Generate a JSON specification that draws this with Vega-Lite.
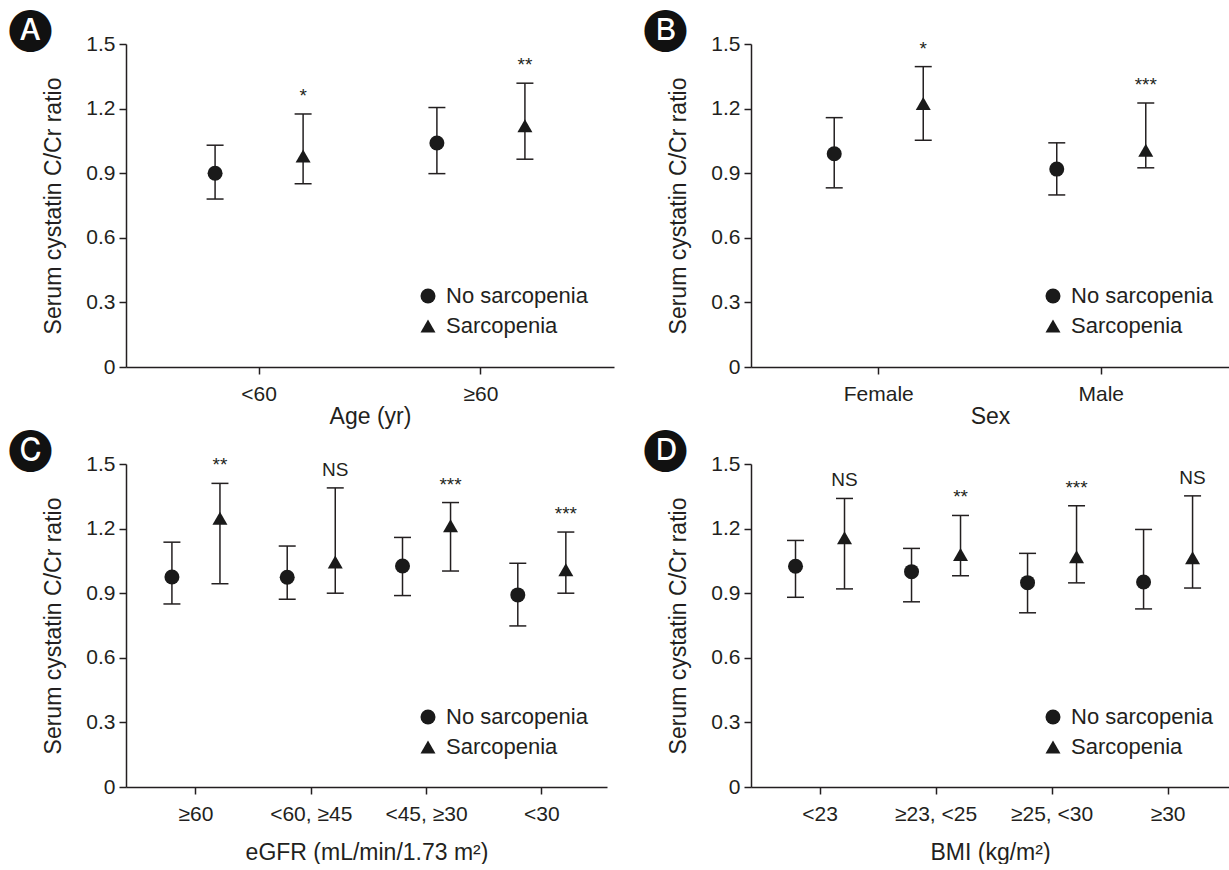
{
  "$schema": "https://vega.github.io/schema/vega-lite/v6.json",
  "background": "white",
  "padding": {"left": 9, "top": 6, "right": 0, "bottom": 0},
  "data": {"values": [
    {"panel": "A", "cat": "<60", "grp": "No sarcopenia", "mean": 0.900, "lower": 0.780, "upper": 1.030, "sig": ""},
    {"panel": "A", "cat": "<60", "grp": "Sarcopenia", "mean": 0.980, "lower": 0.851, "upper": 1.175, "sig": "*"},
    {"panel": "A", "cat": "≥60", "grp": "No sarcopenia", "mean": 1.040, "lower": 0.898, "upper": 1.205, "sig": ""},
    {"panel": "A", "cat": "≥60", "grp": "Sarcopenia", "mean": 1.120, "lower": 0.965, "upper": 1.318, "sig": "**"},
    {"panel": "B", "cat": "Female", "grp": "No sarcopenia", "mean": 0.990, "lower": 0.832, "upper": 1.158, "sig": ""},
    {"panel": "B", "cat": "Female", "grp": "Sarcopenia", "mean": 1.224, "lower": 1.053, "upper": 1.395, "sig": "*"},
    {"panel": "B", "cat": "Male", "grp": "No sarcopenia", "mean": 0.919, "lower": 0.799, "upper": 1.041, "sig": ""},
    {"panel": "B", "cat": "Male", "grp": "Sarcopenia", "mean": 1.007, "lower": 0.925, "upper": 1.226, "sig": "***"},
    {"panel": "C", "cat": "≥60", "grp": "No sarcopenia", "mean": 0.975, "lower": 0.850, "upper": 1.137, "sig": ""},
    {"panel": "C", "cat": "≥60", "grp": "Sarcopenia", "mean": 1.248, "lower": 0.944, "upper": 1.410, "sig": "**"},
    {"panel": "C", "cat": "<60, ≥45", "grp": "No sarcopenia", "mean": 0.974, "lower": 0.872, "upper": 1.119, "sig": ""},
    {"panel": "C", "cat": "<60, ≥45", "grp": "Sarcopenia", "mean": 1.045, "lower": 0.900, "upper": 1.389, "sig": "NS"},
    {"panel": "C", "cat": "<45, ≥30", "grp": "No sarcopenia", "mean": 1.026, "lower": 0.889, "upper": 1.159, "sig": ""},
    {"panel": "C", "cat": "<45, ≥30", "grp": "Sarcopenia", "mean": 1.213, "lower": 1.003, "upper": 1.321, "sig": "***"},
    {"panel": "C", "cat": "<30", "grp": "No sarcopenia", "mean": 0.892, "lower": 0.748, "upper": 1.039, "sig": ""},
    {"panel": "C", "cat": "<30", "grp": "Sarcopenia", "mean": 1.009, "lower": 0.900, "upper": 1.184, "sig": "***"},
    {"panel": "D", "cat": "<23", "grp": "No sarcopenia", "mean": 1.025, "lower": 0.881, "upper": 1.145, "sig": ""},
    {"panel": "D", "cat": "<23", "grp": "Sarcopenia", "mean": 1.157, "lower": 0.920, "upper": 1.340, "sig": "NS"},
    {"panel": "D", "cat": "≥23, <25", "grp": "No sarcopenia", "mean": 1.000, "lower": 0.860, "upper": 1.108, "sig": ""},
    {"panel": "D", "cat": "≥23, <25", "grp": "Sarcopenia", "mean": 1.080, "lower": 0.981, "upper": 1.261, "sig": "**"},
    {"panel": "D", "cat": "≥25, <30", "grp": "No sarcopenia", "mean": 0.949, "lower": 0.809, "upper": 1.085, "sig": ""},
    {"panel": "D", "cat": "≥25, <30", "grp": "Sarcopenia", "mean": 1.069, "lower": 0.948, "upper": 1.306, "sig": "***"},
    {"panel": "D", "cat": "≥30", "grp": "No sarcopenia", "mean": 0.952, "lower": 0.827, "upper": 1.196, "sig": ""},
    {"panel": "D", "cat": "≥30", "grp": "Sarcopenia", "mean": 1.065, "lower": 0.924, "upper": 1.352, "sig": "NS"}
  ]},
  "columns": 2,
  "spacing": {"row": 97, "column": 137},
  "bounds": "flush",
  "resolve": {"scale": {"shape": "independent", "x": "independent", "xOffset": "independent", "y": "independent"}, "legend": {"shape": "independent"}},
  "concat": [
    {
      "width": 488, "height": 323,
      "title": {"text": "🅐", "anchor": "start", "frame": "group", "dx": -117, "dy": 16, "offset": 0, "fontSize": 42, "font": "DejaVu Sans", "color": "#111111", "fontWeight": "normal"},
      "transform": [{"filter": "datum.panel === 'A'"}],
      "encoding": {
        "x": {"field": "cat", "type": "nominal", "sort": ["<60", "≥60"], "scale": {"paddingInner": 0, "paddingOuter": 0.1}, "axis": {"title": "Age (yr)", "titlePadding": 1}},
        "xOffset": {"field": "grp", "type": "nominal", "sort": ["No sarcopenia", "Sarcopenia"], "scale": {"paddingInner": 0, "paddingOuter": 0.26}}
      },
      "layer": [
        {"mark": {"type": "rule", "color": "#231f20", "strokeWidth": 1.5}, "encoding": {"y": {"field": "lower", "type": "quantitative", "title": "Serum cystatin C/Cr ratio", "scale": {"domain": [0, 1.5], "nice": false}, "axis": {"values": [0, 0.3, 0.6, 0.9, 1.2, 1.5], "format": ".1~f", "titlePadding": 20}}, "y2": {"field": "upper"}}},
        {"mark": {"type": "tick", "color": "#231f20", "thickness": 1.5, "size": 17, "opacity": 1}, "encoding": {"y": {"field": "upper", "type": "quantitative", "title": "Serum cystatin C/Cr ratio", "scale": {"domain": [0, 1.5], "nice": false}}}},
        {"mark": {"type": "tick", "color": "#231f20", "thickness": 1.5, "size": 17, "opacity": 1}, "encoding": {"y": {"field": "lower", "type": "quantitative", "title": "Serum cystatin C/Cr ratio", "scale": {"domain": [0, 1.5], "nice": false}}}},
        {"mark": {"type": "point", "filled": true, "color": "#1a1a1a", "opacity": 1, "size": 225}, "encoding": {"y": {"field": "mean", "type": "quantitative", "title": "Serum cystatin C/Cr ratio", "scale": {"domain": [0, 1.5], "nice": false}}, "shape": {"field": "grp", "type": "nominal", "scale": {"domain": ["No sarcopenia", "Sarcopenia"], "range": ["circle", "triangle-up"]}, "legend": {"title": null, "orient": "none", "legendX": 291, "legendY": 241}}}},
        {"mark": {"type": "text", "fontSize": 19, "dy": -12, "baseline": "alphabetic", "color": "#231f20"}, "encoding": {"y": {"field": "upper", "type": "quantitative", "title": "Serum cystatin C/Cr ratio", "scale": {"domain": [0, 1.5], "nice": false}}, "text": {"field": "sig"}}}
      ]
    },
    {
      "width": 478, "height": 323,
      "title": {"text": "🅑", "anchor": "start", "frame": "group", "dx": -107, "dy": 16, "offset": 0, "fontSize": 42, "font": "DejaVu Sans", "color": "#111111", "fontWeight": "normal"},
      "transform": [{"filter": "datum.panel === 'B'"}],
      "encoding": {
        "x": {"field": "cat", "type": "nominal", "sort": ["Female", "Male"], "scale": {"paddingInner": 0, "paddingOuter": 0.074}, "axis": {"title": "Sex", "titlePadding": 1}},
        "xOffset": {"field": "grp", "type": "nominal", "sort": ["No sarcopenia", "Sarcopenia"], "scale": {"paddingInner": 0, "paddingOuter": 0.25}}
      },
      "layer": [
        {"mark": {"type": "rule", "color": "#231f20", "strokeWidth": 1.5}, "encoding": {"y": {"field": "lower", "type": "quantitative", "title": "Serum cystatin C/Cr ratio", "scale": {"domain": [0, 1.5], "nice": false}, "axis": {"values": [0, 0.3, 0.6, 0.9, 1.2, 1.5], "format": ".1~f", "titlePadding": 20}}, "y2": {"field": "upper"}}},
        {"mark": {"type": "tick", "color": "#231f20", "thickness": 1.5, "size": 17, "opacity": 1}, "encoding": {"y": {"field": "upper", "type": "quantitative", "title": "Serum cystatin C/Cr ratio", "scale": {"domain": [0, 1.5], "nice": false}}}},
        {"mark": {"type": "tick", "color": "#231f20", "thickness": 1.5, "size": 17, "opacity": 1}, "encoding": {"y": {"field": "lower", "type": "quantitative", "title": "Serum cystatin C/Cr ratio", "scale": {"domain": [0, 1.5], "nice": false}}}},
        {"mark": {"type": "point", "filled": true, "color": "#1a1a1a", "opacity": 1, "size": 225}, "encoding": {"y": {"field": "mean", "type": "quantitative", "title": "Serum cystatin C/Cr ratio", "scale": {"domain": [0, 1.5], "nice": false}}, "shape": {"field": "grp", "type": "nominal", "scale": {"domain": ["No sarcopenia", "Sarcopenia"], "range": ["circle", "triangle-up"]}, "legend": {"title": null, "orient": "none", "legendX": 291, "legendY": 241}}}},
        {"mark": {"type": "text", "fontSize": 19, "dy": -12, "baseline": "alphabetic", "color": "#231f20"}, "encoding": {"y": {"field": "upper", "type": "quantitative", "title": "Serum cystatin C/Cr ratio", "scale": {"domain": [0, 1.5], "nice": false}}, "text": {"field": "sig"}}}
      ]
    },
    {
      "width": 481, "height": 323,
      "title": {"text": "🅒", "anchor": "start", "frame": "group", "dx": -117, "dy": 16, "offset": 0, "fontSize": 42, "font": "DejaVu Sans", "color": "#111111", "fontWeight": "normal"},
      "transform": [{"filter": "datum.panel === 'C'"}],
      "encoding": {
        "x": {"field": "cat", "type": "nominal", "sort": ["≥60", "<60, ≥45", "<45, ≥30", "<30"], "scale": {"paddingInner": 0, "paddingOuter": 0.086, "align": 0.62}, "axis": {"title": "eGFR (mL/min/1.73 m²)", "titlePadding": 17}},
        "xOffset": {"field": "grp", "type": "nominal", "sort": ["No sarcopenia", "Sarcopenia"], "scale": {"paddingInner": 0, "paddingOuter": 0.2}}
      },
      "layer": [
        {"mark": {"type": "rule", "color": "#231f20", "strokeWidth": 1.5}, "encoding": {"y": {"field": "lower", "type": "quantitative", "title": "Serum cystatin C/Cr ratio", "scale": {"domain": [0, 1.5], "nice": false}, "axis": {"values": [0, 0.3, 0.6, 0.9, 1.2, 1.5], "format": ".1~f", "titlePadding": 20}}, "y2": {"field": "upper"}}},
        {"mark": {"type": "tick", "color": "#231f20", "thickness": 1.5, "size": 17, "opacity": 1}, "encoding": {"y": {"field": "upper", "type": "quantitative", "title": "Serum cystatin C/Cr ratio", "scale": {"domain": [0, 1.5], "nice": false}}}},
        {"mark": {"type": "tick", "color": "#231f20", "thickness": 1.5, "size": 17, "opacity": 1}, "encoding": {"y": {"field": "lower", "type": "quantitative", "title": "Serum cystatin C/Cr ratio", "scale": {"domain": [0, 1.5], "nice": false}}}},
        {"mark": {"type": "point", "filled": true, "color": "#1a1a1a", "opacity": 1, "size": 225}, "encoding": {"y": {"field": "mean", "type": "quantitative", "title": "Serum cystatin C/Cr ratio", "scale": {"domain": [0, 1.5], "nice": false}}, "shape": {"field": "grp", "type": "nominal", "scale": {"domain": ["No sarcopenia", "Sarcopenia"], "range": ["circle", "triangle-up"]}, "legend": {"title": null, "orient": "none", "legendX": 291, "legendY": 242}}}},
        {"mark": {"type": "text", "fontSize": 19, "dy": -12, "baseline": "alphabetic", "color": "#231f20"}, "encoding": {"y": {"field": "upper", "type": "quantitative", "title": "Serum cystatin C/Cr ratio", "scale": {"domain": [0, 1.5], "nice": false}}, "text": {"field": "sig"}}}
      ]
    },
    {
      "width": 478, "height": 323,
      "title": {"text": "🅓", "anchor": "start", "frame": "group", "dx": -107, "dy": 16, "offset": 0, "fontSize": 42, "font": "DejaVu Sans", "color": "#111111", "fontWeight": "normal"},
      "transform": [{"filter": "datum.panel === 'D'"}],
      "encoding": {
        "x": {"field": "cat", "type": "nominal", "sort": ["<23", "≥23, <25", "≥25, <30", "≥30"], "scale": {"paddingInner": 0, "paddingOuter": 0.06, "align": 0.79}, "axis": {"title": "BMI (kg/m²)", "titlePadding": 17}},
        "xOffset": {"field": "grp", "type": "nominal", "sort": ["No sarcopenia", "Sarcopenia"], "scale": {"paddingInner": 0, "paddingOuter": 0.184}}
      },
      "layer": [
        {"mark": {"type": "rule", "color": "#231f20", "strokeWidth": 1.5}, "encoding": {"y": {"field": "lower", "type": "quantitative", "title": "Serum cystatin C/Cr ratio", "scale": {"domain": [0, 1.5], "nice": false}, "axis": {"values": [0, 0.3, 0.6, 0.9, 1.2, 1.5], "format": ".1~f", "titlePadding": 20}}, "y2": {"field": "upper"}}},
        {"mark": {"type": "tick", "color": "#231f20", "thickness": 1.5, "size": 17, "opacity": 1}, "encoding": {"y": {"field": "upper", "type": "quantitative", "title": "Serum cystatin C/Cr ratio", "scale": {"domain": [0, 1.5], "nice": false}}}},
        {"mark": {"type": "tick", "color": "#231f20", "thickness": 1.5, "size": 17, "opacity": 1}, "encoding": {"y": {"field": "lower", "type": "quantitative", "title": "Serum cystatin C/Cr ratio", "scale": {"domain": [0, 1.5], "nice": false}}}},
        {"mark": {"type": "point", "filled": true, "color": "#1a1a1a", "opacity": 1, "size": 225}, "encoding": {"y": {"field": "mean", "type": "quantitative", "title": "Serum cystatin C/Cr ratio", "scale": {"domain": [0, 1.5], "nice": false}}, "shape": {"field": "grp", "type": "nominal", "scale": {"domain": ["No sarcopenia", "Sarcopenia"], "range": ["circle", "triangle-up"]}, "legend": {"title": null, "orient": "none", "legendX": 291, "legendY": 242}}}},
        {"mark": {"type": "text", "fontSize": 19, "dy": -12, "baseline": "alphabetic", "color": "#231f20"}, "encoding": {"y": {"field": "upper", "type": "quantitative", "title": "Serum cystatin C/Cr ratio", "scale": {"domain": [0, 1.5], "nice": false}}, "text": {"field": "sig"}}}
      ]
    }
  ],
  "config": {
    "font": "Liberation Sans",
    "view": {"stroke": null},
    "axis": {
      "domainColor": "#231f20", "domainWidth": 1.5,
      "tickColor": "#231f20", "tickWidth": 1.5, "tickSize": 7,
      "labelFont": "Liberation Sans", "labelFontSize": 21, "labelColor": "#231f20",
      "titleFont": "Liberation Sans", "titleFontSize": 23, "titleFontWeight": "normal", "titleColor": "#231f20",
      "grid": false
    },
    "axisX": {"labelAngle": 0, "labelPadding": 9},
    "axisY": {"labelPadding": 4},
    "legend": {
      "labelFont": "Liberation Sans", "labelFontSize": 22, "labelColor": "#231f20",
      "symbolSize": 225, "symbolFillColor": "#1a1a1a", "symbolStrokeWidth": 0,
      "labelOffset": 7, "rowPadding": 8, "padding": 0
    }
  }
}
